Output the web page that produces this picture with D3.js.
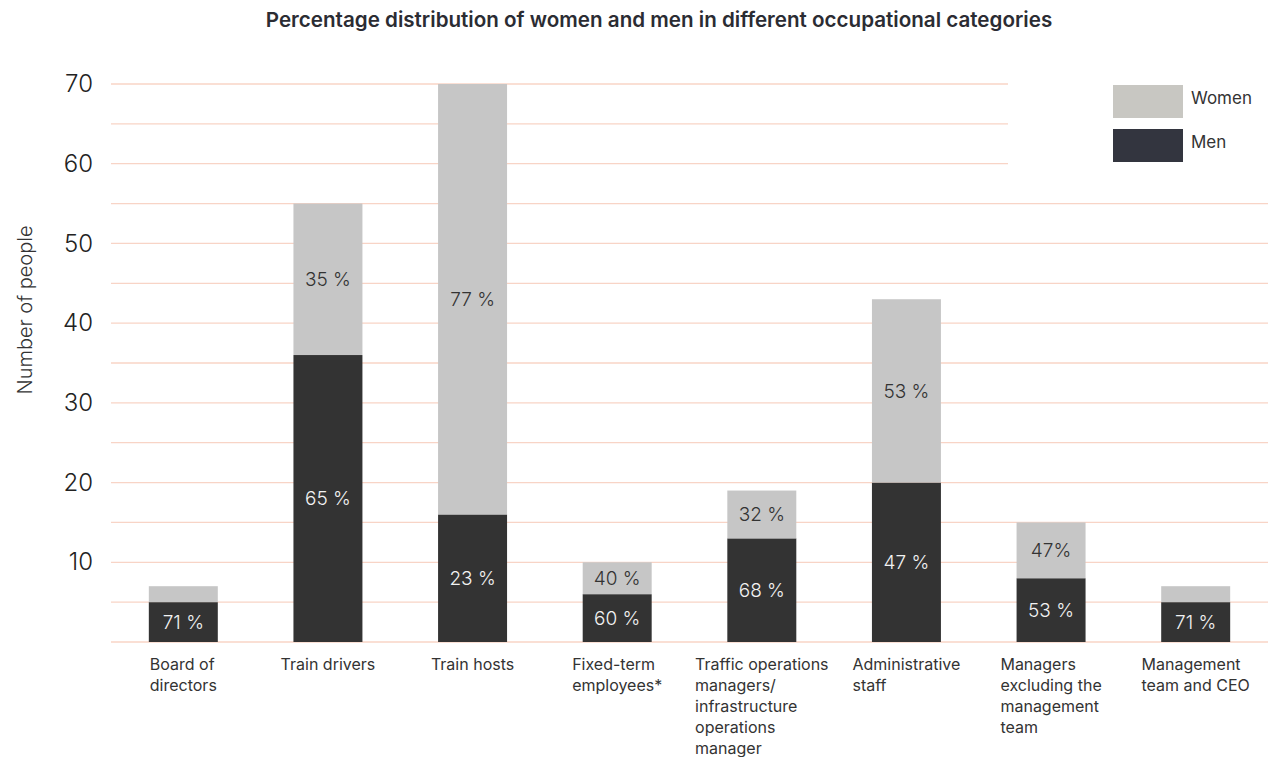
<!DOCTYPE html>
<html>
<head>
<meta charset="utf-8">
<script src="https://cdn.jsdelivr.net/npm/d3@7"></script>
<style>
  html, body { margin: 0; padding: 0; background: #ffffff; }
  svg { display: block; font-family: Inter, "Open Sans", sans-serif; }
</style>
</head>
<body>
<svg id="chart" width="1279" height="757"></svg>
<script>
// Occupational categories (each label split into display lines)
const categories = [
  ["Board of", "directors"],
  ["Train drivers"],
  ["Train hosts"],
  ["Fixed-term", "employees*"],
  ["Traffic operations", "managers/", "infrastructure", "operations", "manager"],
  ["Administrative", "staff"],
  ["Managers", "excluding the", "management", "team"],
  ["Management", "team and CEO"]
];
// Number of people per category
const men   = [5, 36, 16, 6, 13, 20, 8, 5];
const women = [2, 19, 54, 4, 6, 23, 7, 2];
// Printed shares (empty = not printed)
const menShare   = ["71 %", "65 %", "23 %", "60 %", "68 %", "47 %", "53 %", "71 %"];
const womenShare = ["", "35 %", "77 %", "40 %", "32 %", "53 %", "47%", ""];
const yTicks = [10, 20, 30, 40, 50, 60, 70];
const seriesNames = ["Women", "Men"];

const svg = d3.select("#chart");
const plot = { left: 111, right: 1268, top: 84, bottom: 642 };

const x = d3.scaleBand()
  .domain(d3.range(categories.length))
  .range([plot.left, plot.right])
  .paddingInner(0.523)
  .paddingOuter(0.2615);

const y = d3.scaleLinear().domain([0, 70]).range([plot.bottom, plot.top]);

// Title
svg.append("text")
  .attr("x", 659).attr("y", 27)
  .attr("text-anchor", "middle")
  .attr("font-size", 20.6).attr("font-weight", 600)
  .attr("fill", "#2b2c33")
  .text("Percentage distribution of women and men in different occupational categories");

// Gridlines every 5 people
const grid = svg.append("g");
grid.selectAll("line")
  .data(d3.range(0, 71, 5))
  .join("line")
  .attr("x1", plot.left).attr("x2", plot.right)
  .attr("y1", d => y(d)).attr("y2", d => y(d))
  .attr("stroke", "#f8d4c6").attr("stroke-width", 1.3);

// Y axis labels
const yAxis = d3.axisLeft(y).tickValues(yTicks).tickSize(0).tickPadding(0);
const ya = svg.append("g").attr("transform", `translate(93,0)`).call(yAxis);
ya.select(".domain").remove();
ya.selectAll("text")
  .attr("font-family", "Inter, sans-serif")
  .attr("font-size", 24).attr("font-weight", 300)
  .attr("fill", "#222");

svg.append("text")
  .attr("transform", `translate(32,310) rotate(-90)`)
  .attr("text-anchor", "middle")
  .attr("font-size", 20).attr("font-weight", 300)
  .attr("fill", "#333")
  .text("Number of people");

// Stacked bars
const rows = categories.map((c, i) => ({ i, Men: men[i], Women: women[i] }));
const stack = d3.stack().keys(["Men", "Women"])(rows);
const colors = { Men: "#333333", Women: "#c6c6c6" };

svg.append("g").selectAll("g")
  .data(stack)
  .join("g")
  .attr("fill", d => colors[d.key])
  .selectAll("rect")
  .data(d => d)
  .join("rect")
  .attr("x", (d, i) => x(i))
  .attr("width", x.bandwidth())
  .attr("y", d => y(d[1]))
  .attr("height", d => y(d[0]) - y(d[1]));

// Share labels centred in each segment
const labels = svg.append("g")
  .attr("text-anchor", "middle")
  .attr("font-size", 19).attr("font-weight", 300);

stack.forEach(s => {
  const shares = s.key === "Men" ? menShare : womenShare;
  labels.selectAll(null)
    .data(s.filter((d, i) => shares[i] !== ""))
    .join("text")
    .attr("x", d => x(d.data.i) + x.bandwidth() / 2)
    .attr("y", d => (y(d[0]) + y(d[1])) / 2)
    .attr("dy", "0.35em")
    .attr("fill", s.key === "Men" ? "#f2f2f2" : "#333")
    .text(d => shares[d.data.i]);
});

// Category labels: left-aligned block centred under each bar
const xl = svg.append("g");
categories.forEach((lines, i) => {
  const t = xl.append("text")
    .attr("font-size", 16).attr("font-weight", 400)
    .attr("fill", "#333");
  lines.forEach((ln, k) => {
    t.append("tspan").attr("x", 0).attr("y", 670 + k * 21).text(ln);
  });
  const w = d3.max(t.selectAll("tspan").nodes(), n => n.getComputedTextLength());
  t.attr("transform", `translate(${x(i) + x.bandwidth() / 2 - w / 2},0)`);
});

// Legend with a white backing over the gridlines
const lg = svg.append("g");
lg.append("rect").attr("x", 1008).attr("y", 76).attr("width", 271).attr("height", 100).attr("fill", "#fff");
const legendColors = { Women: "#c8c7c2", Men: "#33353f" };
seriesNames.forEach((name, k) => {
  lg.append("rect")
    .attr("x", 1113).attr("y", 85 + k * 44)
    .attr("width", 70).attr("height", 33)
    .attr("fill", legendColors[name]);
  lg.append("text")
    .attr("x", 1191).attr("y", 104 + k * 44)
    .attr("font-size", 17).attr("font-weight", 400)
    .attr("fill", "#333")
    .text(name);
});
</script>
</body>
</html>
